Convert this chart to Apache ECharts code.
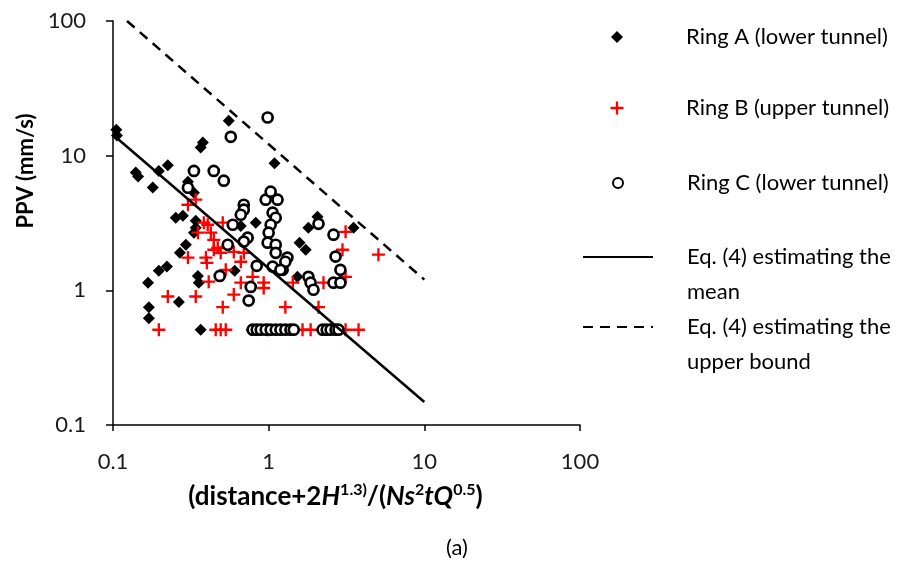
<!DOCTYPE html>
<html><head><meta charset="utf-8">
<script src="https://cdn.jsdelivr.net/npm/echarts@6/dist/echarts.min.js"></script>
<style>html,body{margin:0;padding:0;background:#fff}#c{width:898px;height:570px}</style>
</head><body><div id="c"></div>
<script>
const xTickLabels = ['0.1', '1', '10', '100'];
const yTickLabels = ['0.1', '1', '10', '100'];
const seriesNames = ['Ring A (lower tunnel)', 'Ring B (upper tunnel)', 'Ring C (lower tunnel)',
  'Eq. (4) estimating the mean', 'Eq. (4) estimating the upper bound'];
const legendLabels = ['Ring A (lower tunnel)', 'Ring B (upper tunnel)', 'Ring C (lower tunnel)',
  ' \nEq. (4) estimating the\nmean', ' \nEq. (4) estimating the\nupper bound'];

const ringAX = [0.105,0.106,0.140,0.145,0.180,0.197,0.225,0.366,0.378,0.554,1.09,0.303,0.331,0.253,0.281,0.340,0.340,0.331,0.294,0.269,0.168,0.197,0.222,0.170,0.170,0.265,0.351,0.356,0.366,0.826,0.605,1.53,1.80,2.06,3.51,1.58,1.73,0.662,0.778,2.22,2.50];
const ringAY = [15.6,14.1,7.5,7.0,5.8,7.7,8.5,11.5,12.5,18.2,8.8,6.4,5.3,3.46,3.58,3.29,2.92,2.68,2.18,1.90,1.14,1.40,1.50,0.75,0.62,0.82,1.28,1.14,0.51,3.18,1.40,1.26,2.92,3.52,2.92,2.26,2.00,3.0,0.51,0.51,0.51];

const ringBX = [0.340,0.303,0.383,0.406,0.351,0.425,0.507,0.444,0.471,0.444,0.492,0.597,0.692,0.662,0.303,0.395,0.401,0.530,0.412,0.662,0.789,0.929,0.929,0.225,0.340,0.597,0.507,0.197,0.457,0.492,0.530,1.43,1.28,2.09,2.25,3.12,2.98,5.07,3.12,0.985,1.65,1.86,3.12,3.78];
const ringBY = [4.71,4.32,3.18,3.07,2.68,2.68,3.18,2.37,2.07,2.00,1.90,1.93,1.90,1.63,1.75,1.75,1.60,1.42,1.16,1.14,1.26,1.14,1.04,0.90,0.90,0.93,0.75,0.51,0.51,0.51,0.51,1.14,0.75,0.75,1.14,2.72,2.00,1.84,1.26,0.51,0.51,0.51,0.51,0.51];

const ringCX = [0.985,0.571,0.331,0.444,0.515,0.303,0.957,1.03,1.14,0.692,0.692,0.662,1.06,1.11,1.03,1.0,0.985,1.11,1.11,0.733,0.546,2.09,1.32,1.06,1.23,2.61,2.69,2.89,2.61,2.89,1.80,1.86,1.94,0.485,0.838,0.767,0.744,1.28,1.19,0.588,0.692,
  0.789,0.838,0.889,0.957,1.03,1.11,1.19,1.28,1.38,1.45,2.22,2.36,2.50,2.69,2.81];
const ringCY = [19.2,13.8,7.7,7.7,6.52,5.78,4.71,5.40,4.71,4.32,3.97,3.64,3.77,3.46,3.07,2.68,2.26,2.18,1.90,2.46,2.18,3.12,1.75,1.50,1.42,2.59,1.78,1.42,1.14,1.14,1.26,1.14,1.01,1.28,1.52,1.06,0.84,1.63,1.42,3.07,2.30,
  0.51,0.51,0.51,0.51,0.51,0.51,0.51,0.51,0.51,0.51,0.51,0.51,0.51,0.51,0.51];

const meanX = [0.1, 10];
const meanY = [14.3, 0.148];
const upperX = [0.123, 10];
const upperY = [100, 1.2];

const zip = (xs, ys) => xs.map((x, i) => [x, ys[i]]);
const tickFmt = labels => v => labels[Math.round(Math.log10(v)) + 1];

const FONT = 'Lato';
const plusPath = 'path://M4.1,0H5.9V4.1H10V5.9H5.9V10H4.1V5.9H0V4.1H4.1Z';
const SYM = [12, 13, 10];

const legendScatter = (i, top) => ({
  left: 617 - SYM[i] / 2, top: top, padding: 0, itemWidth: SYM[i], itemHeight: SYM[i],
  selectedMode: false, data: [seriesNames[i]],
  textStyle: { fontFamily: FONT, fontSize: 22, color: '#000', padding: [0, 0, 0, 64 - SYM[i] / 2] }
});
const legendLine = (i, top) => ({
  left: 582, top: top, padding: 0, itemWidth: 70, itemHeight: 14,
  selectedMode: false, data: [seriesNames[i]],
  itemStyle: { opacity: 0 },
  formatter: n => legendLabels[seriesNames.indexOf(n)],
  textStyle: { fontFamily: FONT, fontSize: 22, color: '#000', lineHeight: 35, padding: [0, 0, 0, 29] }
});

const chart = echarts.init(document.getElementById('c'), null, { renderer: 'canvas' });
chart.setOption({
  animation: false,
  backgroundColor: '#fff',
  title: { text: '(a)', left: 446, top: 537, padding: 0,
    textStyle: { fontFamily: FONT, fontSize: 22, fontWeight: 'normal', color: '#000' } },
  grid: { left: 113, top: 21, right: 318, bottom: 145, containLabel: false, outerBoundsMode: 'none' },
  legend: [
    legendScatter(0, 26),
    legendScatter(1, 97),
    legendScatter(2, 172),
    legendLine(3, 204.5),
    legendLine(4, 274.5)
  ],
  xAxis: {
    type: 'log', logBase: 10, min: 0.1, max: 100,
    axisLine: { show: true, onZero: false, lineStyle: { color: '#000', width: 1.5 } },
    axisTick: { show: true, inside: false, length: 6, lineStyle: { color: '#000', width: 1.5 } },
    minorTick: { show: false }, splitLine: { show: false },
    axisLabel: { fontFamily: FONT, fontSize: 22, color: '#1a1a1a', margin: 26, formatter: tickFmt(xTickLabels) },
    name: '{b|(distance+2}{i|H}{s|1.3)}{b|/(}{i|Ns}{s|2}{i|tQ}{s|0.5}{b|)}',
    nameLocation: 'middle', nameGap: 57,
    nameTextStyle: {
      fontFamily: FONT, fontSize: 26, fontWeight: 'bold', color: '#000', padding: [0, 22, 0, 0],
      rich: {
        b: { fontFamily: FONT, fontSize: 26, fontWeight: 'bold', color: '#000', lineHeight: 30 },
        i: { fontFamily: FONT, fontSize: 26, fontWeight: 'bold', fontStyle: 'italic', color: '#000', lineHeight: 30 },
        s: { fontFamily: FONT, fontSize: 16, fontWeight: 'bold', color: '#000', verticalAlign: 'top', lineHeight: 30, padding: [0, 0, 8, 0] }
      }
    }
  },
  yAxis: {
    type: 'log', logBase: 10, min: 0.1, max: 100,
    axisLine: { show: true, onZero: false, lineStyle: { color: '#000', width: 1.5 } },
    axisTick: { show: true, inside: false, length: 7, lineStyle: { color: '#000', width: 1.5 } },
    minorTick: { show: false }, splitLine: { show: false },
    axisLabel: { fontFamily: FONT, fontSize: 22, color: '#1a1a1a', margin: 27, formatter: tickFmt(yTickLabels) },
    name: 'PPV (mm/s)', nameLocation: 'middle', nameGap: 70,
    nameTextStyle: { fontFamily: FONT, fontSize: 22, fontWeight: 'bold', color: '#000', padding: [0, 0, 0, 104] }
  },
  series: [
    { name: seriesNames[0], type: 'scatter', data: zip(ringAX, ringAY), symbol: 'diamond', symbolSize: SYM[0],
      itemStyle: { color: '#000', opacity: 1 }, z: 2 },
    { name: seriesNames[1], type: 'scatter', data: zip(ringBX, ringBY), symbol: plusPath, symbolSize: SYM[1],
      itemStyle: { color: '#ff0000', opacity: 1 }, z: 3 },
    { name: seriesNames[2], type: 'scatter', data: zip(ringCX, ringCY), symbol: 'circle', symbolSize: SYM[2],
      itemStyle: { color: '#fff', borderColor: '#000', borderWidth: 2.7, opacity: 1 }, z: 4 },
    { name: seriesNames[3], type: 'line', data: zip(meanX, meanY), symbol: 'none', clip: true,
      lineStyle: { color: '#000', width: 2.5 }, z: 5 },
    { name: seriesNames[4], type: 'line', data: zip(upperX, upperY), symbol: 'none', clip: true,
      lineStyle: { color: '#000', width: 2.5, type: [10, 7] }, z: 5 }
  ]
});
</script></body></html>
